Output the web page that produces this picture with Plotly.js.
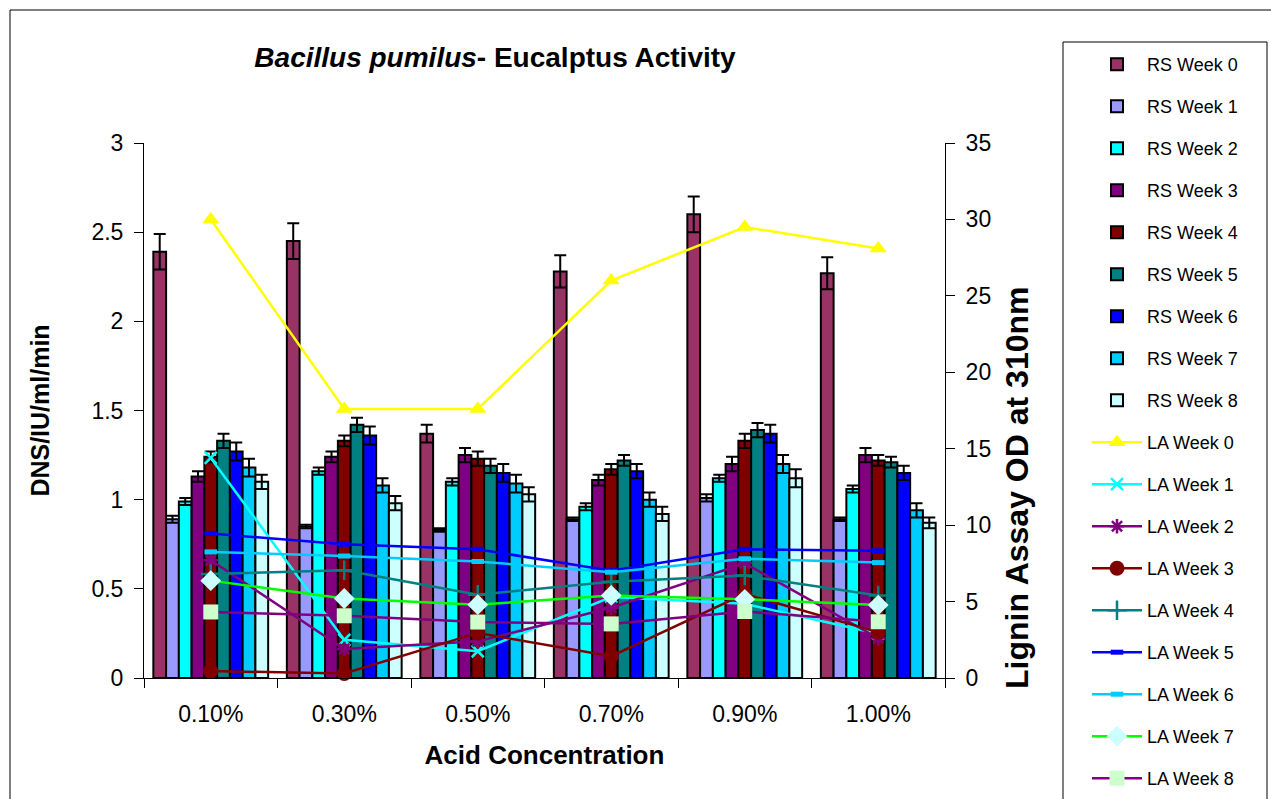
<!DOCTYPE html>
<html>
<head>
<meta charset="utf-8">
<script src="https://cdn.plot.ly/plotly-3.0.1.min.js"></script>
<style>html,body{margin:0;padding:0;background:#fff;}#chart{width:1271px;height:799px;}</style>
</head>
<body>
<div id="chart"></div>
<script>
// ---- Data ----
const categories = ['0.10%', '0.30%', '0.50%', '0.70%', '0.90%', '1.00%'];

// Reducing sugar (left axis, DNS/IU/ml/min)
const rsWeek0 = [2.39, 2.45, 1.37, 2.28, 2.60, 2.27];
const rsWeek1 = [0.89, 0.85, 0.83, 0.89, 1.01, 0.89];
const rsWeek2 = [0.99, 1.16, 1.10, 0.96, 1.12, 1.06];
const rsWeek3 = [1.13, 1.24, 1.25, 1.11, 1.20, 1.25];
const rsWeek4 = [1.24, 1.33, 1.23, 1.17, 1.33, 1.22];
const rsWeek5 = [1.33, 1.42, 1.19, 1.22, 1.39, 1.21];
const rsWeek6 = [1.27, 1.36, 1.15, 1.16, 1.37, 1.15];
const rsWeek7 = [1.18, 1.08, 1.09, 1.00, 1.20, 0.94];
const rsWeek8 = [1.10, 0.98, 1.03, 0.92, 1.12, 0.87];

// Error bars
const rsErr0 = [0.10, 0.10, 0.05, 0.09, 0.10, 0.09];
const rsErr1 = [0.02, 0.01, 0.01, 0.01, 0.02, 0.01];
const rsErr2 = [0.02, 0.02, 0.02, 0.02, 0.02, 0.02];
const rsErr3 = [0.03, 0.03, 0.04, 0.03, 0.04, 0.04];
const rsErr4 = [0.03, 0.03, 0.04, 0.03, 0.04, 0.03];
const rsErr5 = [0.04, 0.04, 0.04, 0.03, 0.04, 0.03];
const rsErr6 = [0.05, 0.05, 0.05, 0.04, 0.05, 0.04];
const rsErr7 = [0.05, 0.04, 0.05, 0.04, 0.05, 0.04];
const rsErr8 = [0.04, 0.04, 0.04, 0.04, 0.05, 0.03];

// Lignin assay (right axis, OD at 310nm)
const laWeek0 = [30.0, 17.6, 17.6, 26.0, 29.5, 28.1];
const laWeek1 = [14.4, 2.5, 1.75, 5.3, 4.85, 2.9];
const laWeek2 = [7.7, 1.9, 2.4, 4.6, 7.5, 2.6];
const laWeek3 = [0.45, 0.3, 2.95, 1.43, 5.5, 3.0];
const laWeek4 = [6.8, 7.05, 5.45, 6.3, 6.7, 5.4];
const laWeek5 = [9.45, 8.75, 8.42, 7.02, 8.42, 8.32];
const laWeek6 = [8.25, 7.98, 7.62, 6.92, 7.8, 7.55];
const laWeek7 = [6.37, 5.2, 4.8, 5.4, 5.15, 4.77];
const laWeek8 = [4.32, 4.07, 3.66, 3.54, 4.35, 3.68];

const rsNames = ['RS Week 0','RS Week 1','RS Week 2','RS Week 3','RS Week 4','RS Week 5','RS Week 6','RS Week 7','RS Week 8'];
const laNames = ['LA Week 0','LA Week 1','LA Week 2','LA Week 3','LA Week 4','LA Week 5','LA Week 6','LA Week 7','LA Week 8'];

// ---- Styles ----
const rsValues = [rsWeek0, rsWeek1, rsWeek2, rsWeek3, rsWeek4, rsWeek5, rsWeek6, rsWeek7, rsWeek8];
const rsErrors = [rsErr0, rsErr1, rsErr2, rsErr3, rsErr4, rsErr5, rsErr6, rsErr7, rsErr8];
const rsColors = ['#993366', '#9999FF', '#00FFFF', '#800080', '#800000', '#008080', '#0000FF', '#00CCFF', '#CCFFFF'];

const laValues = [laWeek0, laWeek1, laWeek2, laWeek3, laWeek4, laWeek5, laWeek6, laWeek7, laWeek8];
const laLineColors = ['#FFFF00', '#00FFFF', '#800080', '#800000', '#008080', '#0000FF', '#00CCFF', '#00FF00', '#800080'];
const laMarkers = [
  {symbol: 'triangle-up', size: 15, color: '#FFFF00'},
  {symbol: 'x-thin', size: 12, color: '#00FFFF', line: {color: '#00FFFF', width: 2.5}},
  {symbol: 'asterisk', size: 12, color: '#800080', line: {color: '#800080', width: 2.5}},
  {symbol: 'circle', size: 15, color: '#800000'},
  {symbol: 'cross-thin', size: 14, color: '#008080', line: {color: '#008080', width: 2.5}},
  {symbol: 'line-ew', size: 9, color: '#0000FF', line: {color: '#0000FF', width: 5}},
  {symbol: 'line-ew', size: 9, color: '#00CCFF', line: {color: '#00CCFF', width: 5}},
  {symbol: 'diamond', size: 16, color: '#CCFFFF'},
  {symbol: 'square', size: 15, color: '#CCFFCC'}
];

const traces = [];
rsValues.forEach((vals, i) => {
  traces.push({
    type: 'bar', name: rsNames[i], x: categories, y: vals,
    legendgroup: 'rs' + i,
    marker: {color: rsColors[i], line: {color: '#000000', width: 2}},
    error_y: {type: 'data', array: rsErrors[i], visible: true, color: '#000000', thickness: 2, width: 6},
    hoverinfo: 'skip'
  });
});
laValues.forEach((vals, i) => {
  traces.push({
    type: 'scatter', mode: 'lines+markers', name: laNames[i], x: categories, y: vals,
    yaxis: 'y2', legendgroup: 'la' + i,
    line: {color: laLineColors[i], width: 2.5},
    marker: laMarkers[i],
    cliponaxis: false,
    hoverinfo: 'skip'
  });
});

// ---- Layout (pixel geometry of plot area) ----
const W = 1271, H = 799;
const PL = 144, PR = 945, PT = 143, PB = 678;
const px2x = p => (p - PL) / (PR - PL);
const px2y = p => (PB - p) / (PB - PT);

const font = 'Arial, "Liberation Sans", sans-serif';

const layout = {
  width: W, height: H,
  margin: {l: PL, r: W - PR, t: PT, b: H - PB, autoexpand: false},
  paper_bgcolor: '#ffffff', plot_bgcolor: '#ffffff',
  font: {family: font, color: '#000000'},
  showlegend: true,
  barmode: 'group', bargap: 0.14, bargroupgap: 0,
  title: {
    text: '<i>Bacillus pumilus</i>- Eucalptus Activity',
    font: {family: font, size: 28, weight: 'bold', color: '#000000'},
    xref: 'container', yref: 'container', x: 495 / W, y: 1 - 57 / H,
    xanchor: 'center', yanchor: 'middle'
  },
  xaxis: {
    type: 'category', tickson: 'boundaries', ticks: 'outside', ticklen: 9, tickcolor: '#000', tickwidth: 1,
    showline: true, linecolor: '#000', linewidth: 1, showgrid: false, zeroline: false,
    tickfont: {family: font, size: 23, color: '#000'}, ticklabelstandoff: 15,
    title: {text: '<b>Acid Concentration</b>', font: {family: font, size: 26, color: '#000'}, standoff: 20}
  },
  yaxis: {
    range: [0, 3], dtick: 0.5, ticks: 'outside', ticklen: 9, tickcolor: '#000', tickwidth: 1,
    showline: true, linecolor: '#000', linewidth: 1, showgrid: false, zeroline: false,
    tickfont: {family: font, size: 23, color: '#000'}, ticklabelstandoff: 6,
    title: {text: '<b>DNS/IU/ml/min</b>', font: {family: font, size: 25, color: '#000'}, standoff: 34}
  },
  yaxis2: {
    range: [0, 35], dtick: 5, overlaying: 'y', side: 'right', ticks: 'outside', ticklen: 9, tickcolor: '#000', tickwidth: 1,
    showline: true, linecolor: '#000', linewidth: 1, showgrid: false, zeroline: false,
    tickfont: {family: font, size: 23, color: '#000'}, ticklabelstandoff: 6
  },
  annotations: [
    {text: '<b>Lignin Assay OD at 310nm</b>', textangle: -90, showarrow: false,
     xref: 'paper', yref: 'paper', x: px2x(1017), y: px2y(488), xanchor: 'center', yanchor: 'middle',
     font: {family: font, size: 32, color: '#000'}}
  ],
  legend: {
    xref: 'container', yref: 'container', x: 1087 / W, y: 1 - 46 / H, xanchor: 'left', yanchor: 'top',
    font: {family: font, size: 18, color: '#000'}, itemwidth: 50, tracegroupgap: 15.6, maxheight: 1000,
    bgcolor: 'rgba(0,0,0,0)', borderwidth: 0, traceorder: 'grouped'
  },
  shapes: [
    {type: 'rect', xref: 'paper', yref: 'paper', x0: px2x(10), x1: px2x(1300), y0: px2y(830), y1: px2y(10),
     line: {color: '#000', width: 1}, fillcolor: 'rgba(0,0,0,0)'},
    {type: 'rect', xref: 'paper', yref: 'paper', x0: px2x(1063), x1: px2x(1267), y0: px2y(830), y1: px2y(42),
     line: {color: '#000', width: 1}, fillcolor: 'rgba(0,0,0,0)'}
  ]
};

Plotly.newPlot('chart', traces, layout, {displayModeBar: false, staticPlot: true});
</script>
</body>
</html>
